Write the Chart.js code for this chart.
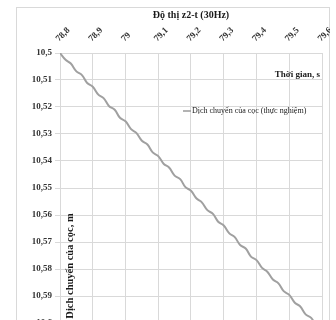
<!DOCTYPE html>
<html>
<head>
<meta charset="utf-8">
<script src="https://cdn.jsdelivr.net/npm/chart.js@4"></script>
<style>
	html, body { margin: 0; padding: 0; background: #fff; overflow: hidden; }
	#frame { position: absolute; left: 16px; top: 7px; width: 314px; height: 340px; border: 1px solid #d9d9d9; box-sizing: border-box; }
	#lineChart { position: absolute; left: 16px; top: 7px; }
</style>
</head>
<body>
<div id="frame"></div>
<canvas id="lineChart" width="314" height="330"></canvas>
<script>
// thoi gian, s
const times = [
	78.800, 78.817, 78.833, 78.850, 78.867, 78.883, 78.900, 78.917, 78.933, 78.950,
	78.967, 78.983, 79.000, 79.017, 79.033, 79.050, 79.067, 79.083, 79.100, 79.117,
	79.133, 79.150, 79.167, 79.183, 79.200, 79.217, 79.233, 79.250, 79.267, 79.283,
	79.300, 79.317, 79.333, 79.350, 79.367, 79.383, 79.400, 79.417, 79.433, 79.450,
	79.467, 79.483, 79.500, 79.517, 79.533, 79.550, 79.567, 79.583, 79.600
];
// dich chuyen cua coc, m
const displacement = [
	10.5000, 10.5025, 10.5039, 10.5068, 10.5082, 10.5111, 10.5125, 10.5154, 10.5167, 10.5197,
	10.5210, 10.5240, 10.5253, 10.5282, 10.5296, 10.5325, 10.5339, 10.5368, 10.5382, 10.5411,
	10.5424, 10.5454, 10.5467, 10.5497, 10.5510, 10.5539, 10.5553, 10.5582, 10.5596, 10.5625,
	10.5639, 10.5668, 10.5681, 10.5711, 10.5724, 10.5754, 10.5767, 10.5796, 10.5810, 10.5839,
	10.5853, 10.5882, 10.5896, 10.5925, 10.5938, 10.5968, 10.5981, 10.6011, 10.6024
];
const xTicks = [78.8, 78.9, 79, 79.1, 79.2, 79.3, 79.4, 79.5, 79.6];
const xTickLabels = ['78,8', '78,9', '79', '79,1', '79,2', '79,3', '79,4', '79,5', '79,6'];
const yTicks = [10.5, 10.51, 10.52, 10.53, 10.54, 10.55, 10.56, 10.57, 10.58, 10.59, 10.6];
const yTickLabels = ['10,5', '10,51', '10,52', '10,53', '10,54', '10,55', '10,56', '10,57', '10,58', '10,59', '10,6'];

const serif = "'Liberation Serif', 'DejaVu Serif', serif";

function tickText(values, labels, v) {
	let best = 0;
	values.forEach((t, i) => {
		if (Math.abs(t - v) < Math.abs(values[best] - v)) best = i;
	});
	return labels[best];
}

// tieu de, chu thich va ten truc ve ben trong vung do thi
const labelsPlugin = {
	id: 'labels',
	afterDraw(chart) {
		const ctx = chart.ctx;
		const a = chart.chartArea;
		ctx.save();
		ctx.fillStyle = '#1a1a1a';
		ctx.textBaseline = 'middle';

		ctx.font = 'bold 10px ' + serif;
		ctx.textAlign = 'center';
		ctx.fillText('Độ thị z2-t (30Hz)', (a.left + a.right) / 2, 8);

		ctx.font = 'bold 9px ' + serif;
		ctx.textAlign = 'right';
		ctx.fillText('Thời gian, s', a.right - 2, a.top + 22);

		ctx.strokeStyle = '#9a9a9a';
		ctx.lineWidth = 1.5;
		ctx.beginPath();
		ctx.moveTo(a.left + 123, a.top + 58);
		ctx.lineTo(a.left + 131, a.top + 58);
		ctx.stroke();
		ctx.font = '8px ' + serif;
		ctx.textAlign = 'left';
		ctx.fillText('Dịch chuyển của cọc (thực nghiệm)', a.left + 132, a.top + 58);

		ctx.font = 'bold 10.5px ' + serif;
		ctx.translate(a.left + 10, a.top + 213);
		ctx.rotate(-Math.PI / 2);
		ctx.textAlign = 'center';
		ctx.fillText('Dịch chuyển của cọc, m', 0, 0);
		ctx.restore();
	}
};

document.addEventListener("DOMContentLoaded", () => {
	new Chart(document.querySelector("#lineChart"), {
		type: "line",
		data: {
			datasets: [
				{
					label: "Dịch chuyển của cọc (thực nghiệm)",
					data: times.map((t, i) => ({ x: t, y: displacement[i] })),
					borderColor: "#a0a0a0",
					borderWidth: 2,
					pointRadius: 0,
					tension: 0.4,
					fill: false,
				},
			],
		},
		options: {
			responsive: false,
			animation: false,
			layout: { padding: { top: 0, right: 8, bottom: 14, left: 0 } },
			plugins: {
				legend: { display: false },
				title: { display: false },
				tooltip: { enabled: false },
			},
			scales: {
				x: {
					type: "linear",
					position: "top",
					min: 78.8,
					max: 79.6,
					afterFit(scale) {
						scale.height = 46;
						scale.paddingLeft = 0;
						scale.paddingRight = 0;
					},
					ticks: {
						stepSize: 0.1,
						minRotation: 45,
						maxRotation: 45,
						padding: 9,
						labelOffset: 5,
						color: "#333",
						font: { family: serif, size: 9, weight: "bold" },
						callback: (value) => tickText(xTicks, xTickLabels, value),
					},
					grid: { color: "#d9d9d9", drawTicks: false },
					border: { display: false },
				},
				y: {
					reverse: true,
					min: 10.5,
					max: 10.6,
					afterFit(scale) {
						scale.width = 44;
					},
					ticks: {
						stepSize: 0.01,
						padding: 3,
						color: "#333",
						font: { family: serif, size: 9, weight: "bold" },
						callback: (value) => tickText(yTicks, yTickLabels, value),
					},
					grid: { color: "#d9d9d9", tickLength: 5 },
					border: { display: false },
				},
			},
		},
		plugins: [labelsPlugin],
	});
});
</script>
</body>
</html>
